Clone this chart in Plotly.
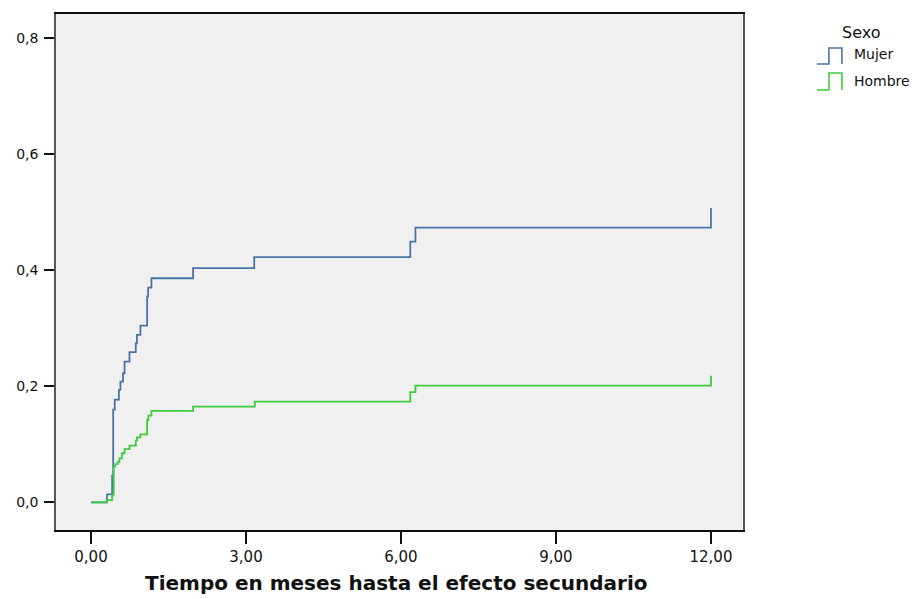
import plotly.graph_objects as go

# Data (Kaplan-Meier style cumulative incidence)
mujer_t = [0.0, 0.31, 0.41, 0.43, 0.46, 0.54, 0.57, 0.62, 0.65, 0.745, 0.867, 0.89, 0.957,
           1.087, 1.106, 1.17, 1.976, 3.16, 6.18, 6.28, 12.0, 12.0]
mujer_v = [0.0, 0.014, 0.046, 0.160, 0.177, 0.194, 0.208, 0.2225, 0.2425, 0.2587, 0.274, 0.2885, 0.3045,
           0.3545, 0.370, 0.386, 0.4034, 0.4223, 0.449, 0.4733, 0.4733, 0.507]

hombre_t = [0.0, 0.31, 0.41, 0.44, 0.47, 0.52, 0.55, 0.60, 0.65, 0.745, 0.867, 0.89, 0.957,
            1.087, 1.11, 1.17, 1.976, 3.17, 6.18, 6.28, 12.0, 12.0]
hombre_v = [0.0, 0.004, 0.013, 0.0617, 0.066, 0.070, 0.076, 0.0847, 0.092, 0.0978, 0.1065, 0.112, 0.1174,
            0.142, 0.1496, 0.1576, 0.165, 0.1736, 0.190, 0.201, 0.201, 0.218]

x_ticks = [0, 3, 6, 9, 12]
x_tick_labels = ["0,00", "3,00", "6,00", "9,00", "12,00"]
y_ticks = [0.0, 0.2, 0.4, 0.6, 0.8]
y_tick_labels = ["0,0", "0,2", "0,4", "0,6", "0,8"]

series_names = ["Mujer", "Hombre"]
series_colors = ["#4a74a6", "#3ccc3c"]
legend_title = "Sexo"
x_title = "Tiempo en meses hasta el efecto secundario"

W, H = 916, 599
L, R, T, B = 55.5, 743, 14, 530

fig = go.Figure()
for name, t, v, c in [(series_names[0], mujer_t, mujer_v, series_colors[0]),
                      (series_names[1], hombre_t, hombre_v, series_colors[1])]:
    fig.add_trace(go.Scatter(x=t, y=v, mode="lines", line=dict(shape="hv", color=c, width=1.8),
                             name=name, showlegend=False))

def px(xp):
    return (xp - L) / (R - L)

def py(yp):
    return (B - yp) / (B - T)

shapes = []
annotations = []
# custom legend glyphs (step shape)
for i, (name, c) in enumerate(zip(series_names, series_colors)):
    base = 64 + i * 26
    top = 48 + i * 25
    path = (f"M {px(817)},{py(base)} L {px(829)},{py(base)} L {px(829)},{py(top)} "
            f"L {px(842)},{py(top)} L {px(842)},{py(base)}")
    shapes.append(dict(type="path", xref="paper", yref="paper", path=path,
                       line=dict(color=c, width=1.6)))
    annotations.append(dict(xref="paper", yref="paper", x=px(852), y=py(54 + i * 27),
                            text=name, showarrow=False, xanchor="left", yanchor="middle",
                            font=dict(family="DejaVu Sans", size=14, color="#111")))
annotations.append(dict(xref="paper", yref="paper", x=px(861), y=py(33), text=legend_title,
                        showarrow=False, xanchor="center", yanchor="middle",
                        font=dict(family="DejaVu Sans", size=16, color="#111")))
annotations.append(dict(xref="paper", yref="paper", x=px(396), y=py(583), text=f"<b>{x_title}</b>",
                        showarrow=False, xanchor="center", yanchor="middle",
                        font=dict(family="DejaVu Sans", size=20, color="#111")))

fig.update_layout(
    width=W, height=H,
    margin=dict(l=L, r=W - R, t=T, b=H - B, pad=0),
    paper_bgcolor="white", plot_bgcolor="#f0f0f0",
    shapes=shapes, annotations=annotations,
    font=dict(family="DejaVu Sans", size=13, color="#111"),
)
fig.update_xaxes(range=[-0.677, 12.62], tickvals=x_ticks, ticktext=x_tick_labels,
                 showgrid=False, zeroline=False, ticks="outside", ticklen=12, tickwidth=1.5,
                 tickcolor="#111", showline=True, mirror=True, linecolor="#111", linewidth=2,
                 tickfont=dict(family="DejaVu Sans", size=15, color="#111"))
fig.update_yaxes(range=[-0.0474, 0.841], tickvals=y_ticks, ticktext=y_tick_labels,
                 showgrid=False, zeroline=False, ticks="outside", ticklen=10, tickwidth=1.5,
                 tickcolor="#111", showline=True, mirror=True, linecolor="#555", linewidth=1.5,
                 ticklabelstandoff=3,
                 tickfont=dict(family="DejaVu Sans", size=14, color="#111"))

fig.write_html("out.html")
